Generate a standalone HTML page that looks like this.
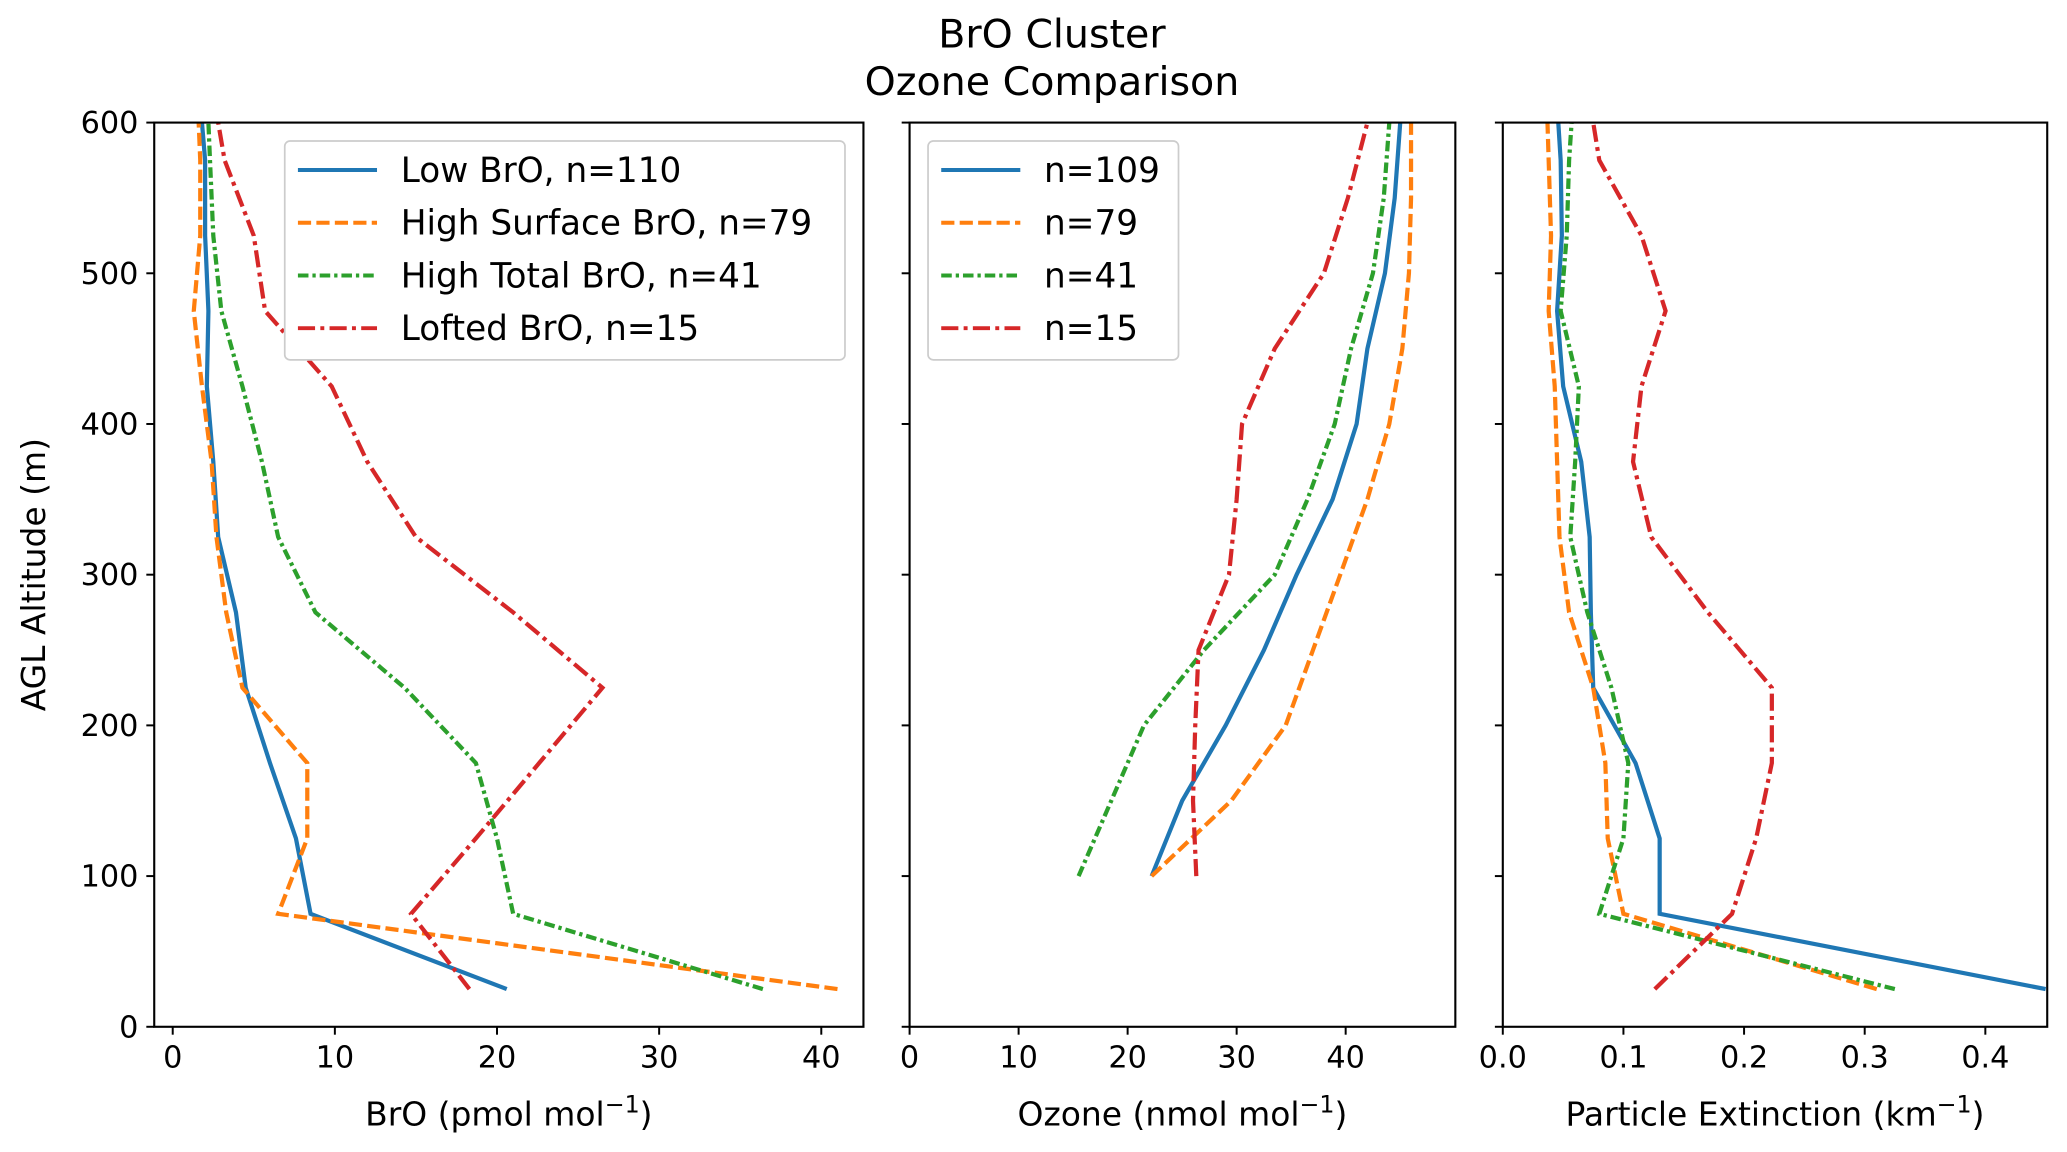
<!DOCTYPE html>
<html><head><meta charset="utf-8"><style>
html,body{margin:0;padding:0;background:#fff}
svg{display:block}
text{font-family:"DejaVu Sans","Liberation Sans",sans-serif;fill:#000}
</style></head><body>
<svg id="chart" width="2067" height="1152" viewBox="0 0 1568 874" preserveAspectRatio="none" xmlns="http://www.w3.org/2000/svg">
<text x="798" y="36" font-size="30" text-anchor="middle">BrO Cluster</text>
<text x="798" y="72" font-size="30" text-anchor="middle">Ozone Comparison</text>
<text transform="translate(34,436) rotate(-90)" font-size="25" text-anchor="middle">AGL Altitude (m)</text>
<g id="plots"></g>
</svg>
<script>
const altFull = [25,75,125,175,225,275,325,375,425,475,525,575,600];
const broLow = [20.6,8.5,7.6,6.0,4.5,3.9,2.8,2.5,2.1,2.2,2.0,2.0,1.8];
const broSurf = [41,6.5,8.3,8.3,4.3,3.3,2.7,2.4,1.8,1.3,1.7,1.7,1.6];
const broTotal = [36.4,21,20,18.7,14.3,8.8,6.5,5.5,4.3,3.0,2.5,2.3,2.2];
const broLofted = [18.3,14.7,18.7,22.6,26.5,21,15,12,9.8,5.7,5.0,3.2,2.8];
const altO3 = [100,150,200,250,300,350,400,450,500,550,600];
const o3Low = [22.2,25,29,32.5,35.5,38.8,41,42,43.6,44.5,45];
const o3Surf = [22.2,29.5,34.5,37,39.5,42,44,45.2,45.8,46,46];
const o3Total = [15.5,18.5,21.5,27,33.5,36.5,39,40.5,42.5,43.5,44];
const o3Lofted = [26.3,26,26.2,26.5,29.3,30,30.5,33.5,38,40.2,42];
const extLow = [0.45,0.13,0.13,0.11,0.075,0.073,0.072,0.065,0.05,0.045,0.049,0.048,0.046];
const extSurf = [0.31,0.1,0.087,0.085,0.075,0.055,0.047,0.045,0.043,0.038,0.040,0.038,0.037];
const extTotal = [0.325,0.08,0.1,0.104,0.09,0.07,0.056,0.06,0.063,0.048,0.053,0.055,0.057];
const extLofted = [0.126,0.19,0.21,0.223,0.223,0.17,0.123,0.108,0.115,0.135,0.115,0.08,0.075];
const yTicks = [0,100,200,300,400,500,600];
const broTicks = [0,10,20,30,40];
const o3Ticks = [0,10,20,30,40];
const extTicks = [0.0,0.1,0.2,0.3,0.4];
const extTickLabels = ["0.0","0.1","0.2","0.3","0.4"];
const legend1 = ["Low BrO, n=110","High Surface BrO, n=79","High Total BrO, n=41","Lofted BrO, n=15"];
const legend2 = ["n=109","n=79","n=41","n=15"];

const NS="http://www.w3.org/2000/svg";
const root=document.getElementById('plots');
const styles=[{c:"#1f77b4",d:""},{c:"#ff7f0e",d:"10,4"},{c:"#2ca02c",d:"8,3,2.5,3"},{c:"#d62728",d:"13,4,3,4"}];
const plotTop=93,plotBot=779;
function yS(v){return plotBot-(v/600)*(plotBot-plotTop);}
function mk(tag,attrs,parent){const e=document.createElementNS(NS,tag);for(const k in attrs)e.setAttribute(k,attrs[k]);(parent||root).appendChild(e);return e;}

const panels=[
 {name:"bro",x0:117,x1:655,xmin:-1.14,xmax:42.6,ticks:broTicks,labels:broTicks.map(String),alt:altFull,series:[broLow,broSurf,broTotal,broLofted],title:"BrO (pmol mol",yl:true,legend:legend1,lg:{x:216,w:425}},
 {name:"ozone",x0:690,x1:1104,xmin:0,xmax:50.06,ticks:o3Ticks,labels:o3Ticks.map(String),alt:altO3,series:[o3Low,o3Surf,o3Total,o3Lofted],title:"Ozone (nmol mol",yl:false,legend:legend2,lg:{x:704,w:190}},
 {name:"extinction",x0:1140,x1:1553,xmin:0,xmax:0.4513,ticks:extTicks,labels:extTickLabels,alt:altFull,series:[extLow,extSurf,extTotal,extLofted],title:"Particle Extinction (km",yl:false,legend:null}
];
panels.forEach(p=>{
 const g=mk('g',{});
 
 
 const xS=v=>p.x0+(v-p.xmin)/(p.xmax-p.xmin)*(p.x1-p.x0);
 yTicks.forEach(t=>{
  const l=mk('line',{x1:p.x0-6,x2:p.x0,y1:yS(t),y2:yS(t),stroke:"#000","stroke-width":1.5},g);
  
  
  if(p.yl){const tx=mk('text',{x:p.x0-12,y:yS(t)+8,"font-size":23,"text-anchor":"end"},g);tx.textContent=t;
   
   }
 });
 p.ticks.forEach((t,i)=>{
  const l=mk('line',{x1:xS(t),x2:xS(t),y1:plotBot,y2:plotBot+6,stroke:"#000","stroke-width":1.5},g);
  
  
  const tx=mk('text',{x:xS(t),y:plotBot+31,"font-size":23,"text-anchor":"middle"},g);tx.textContent=p.labels[i];
  
  
 });
 const xt=mk('text',{x:(p.x0+p.x1)/2,y:plotBot+75,"font-size":25,"text-anchor":"middle"},g);
 
 
 xt.appendChild(document.createTextNode(p.title));
 const sup=mk('tspan',{dy:-10,"font-size":18},xt);sup.textContent="−1";
 const cl=mk('tspan',{dy:10},xt);cl.textContent=")";
 p.series.forEach((s,i)=>{
  const pts=s.map((v,j)=>xS(v).toFixed(1)+","+yS(p.alt[j]).toFixed(1)).join(" ");
  const pl=mk('polyline',{points:pts,fill:"none",stroke:styles[i].c,"stroke-width":3.2,"stroke-dasharray":styles[i].d},g);
  
  
 });
 const fr=mk('rect',{x:p.x0,y:plotTop,width:p.x1-p.x0,height:plotBot-plotTop,fill:"none",stroke:"#000","stroke-width":1.6},g);
 
 
 if(p.legend){
  const lg=mk('g',{},g);
  
  
  mk('rect',{x:p.lg.x,y:107,width:p.lg.w,height:166,rx:4,fill:"#fff","fill-opacity":1,stroke:"#ccc","stroke-width":1.3},lg);
  p.legend.forEach((lab,i)=>{
   const yy=129+i*40;
   const ent=mk('g',{},lg);
   
   
   mk('line',{x1:p.lg.x+10,x2:p.lg.x+70,y1:yy,y2:yy,stroke:styles[i].c,"stroke-width":3,"stroke-dasharray":styles[i].d},ent);
   const t=mk('text',{x:p.lg.x+88,y:yy+9,"font-size":26},ent);t.textContent=lab;
  });
 }
});
</script>
</body></html>
